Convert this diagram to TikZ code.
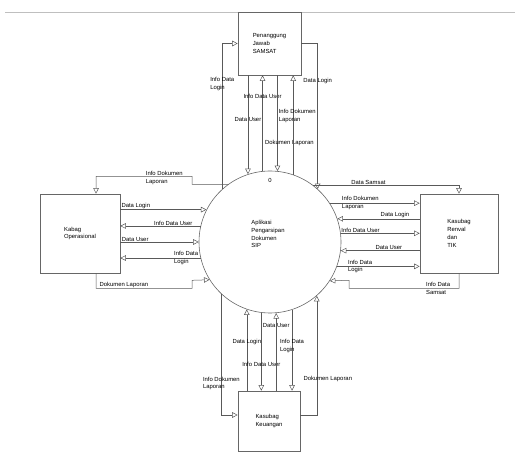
\documentclass[tikz,border=0pt]{standalone}
\usepackage{fontspec}
\setmainfont{Liberation Sans}
\usetikzlibrary{arrows.meta,positioning}

\begin{document}
\begin{tikzpicture}[
  x=1pt, y=1pt,
  font=\fontsize{5.9}{7.8}\selectfont,
  entity/.style={draw=black!60, line width=0.6pt, inner sep=0pt, align=left},
  process/.style={draw=black!60, line width=0.6pt, circle, minimum size=142pt, inner sep=0pt},
  flow/.style={-{Triangle[open, length=5.5pt, width=5.5pt]}, line width=0.5pt, draw=black!65},
  lbl/.style={inner sep=0.6pt, align=left},
  above lbl/.style={lbl, anchor=south}
]
\useasboundingbox (0,0) rectangle (520,452);
\draw[black!25, line width=0.8pt] (5,440) -- (515,440);

\node[entity, minimum width=63pt, minimum height=63pt] (tp) at (269.5,408.5) {Penanggung\\Jawab\\SAMSAT};
\node[entity, minimum width=80pt, minimum height=79pt] (lb) at (80,218.5) {Kabag\\Operasional};
\node[entity, minimum width=78pt, minimum height=79pt] (rb) at (459,218.5) {Kasubag\\Renval\\dan\\TIK};
\node[entity, minimum width=62pt, minimum height=60pt] (bt) at (269,31) {Kasubag\\Keuangan};
\node[process] (app) at (270,210) {};
\node[below=4pt of app.north] (num) {0};
\node[align=left] (appname) at (268,218) {Aplikasi\\Pengarsipan\\Dokumen\\SIP};

% atas
\draw[flow] (app.132.5) |- node[lbl, pos=0.36] (l1) {Info Data\\Login} (tp.west);
\draw[flow] (tp.south -| app.108.9) -- node[lbl, pos=0.45] (l2) {Data User} (app.108.9);
\draw[flow] (app.96.5) -- node[lbl, pos=0.78] (l3) {Info Data User} (app.96.5 |- tp.south);
\draw[flow] (tp.south -| app.84.3) -- node[lbl, pos=0.71, xshift=12pt] (l4) {Dokumen Laporan} (app.84.3);
\draw[flow] (app.71.1) -- node[lbl, pos=0.59, xshift=4pt] (l5) {Info Dokumen\\Laporan} (app.71.1 |- tp.south);
\draw[flow] (tp.east) -| node[lbl, pos=0.63] (l6) {Data Login} (app.48.6);

% bawah
\draw[flow] (app.227.5) |- node[lbl, pos=0.37] (l7) {Info Dokumen\\Laporan} ([yshift=6pt]bt.west);
\draw[flow] (bt.north -| app.251.1) -- node[lbl, pos=0.6] (l8) {Data Login} (app.251.1);
\draw[flow] (app.263.5) -- node[lbl, pos=0.66] (l9) {Info Data User} (app.263.5 |- bt.north);
\draw[flow] (bt.north -| app.275.7) -- node[lbl, pos=0.84] (l10) {Data User} (app.275.7);
\draw[flow] (app.288.9) -- node[lbl, pos=0.45] (l11) {Info Data\\Login} (app.288.9 |- bt.north);
\draw[flow] ([yshift=6pt]bt.east) -| node[lbl, pos=0.65, xshift=11pt] (l12) {Dokumen Laporan} (app.311.4);

% kiri
\draw[flow] (lb.east |- app.153.2) -- node[above lbl, pos=0.18] (l13) {Data Login} (app.153.2);
\draw[flow] (app.167.8) -- node[above lbl, pos=0.34] (l14) {Info Data User} (app.167.8 -| lb.east);
\draw[flow] (lb.east |- app.180) -- node[above lbl, pos=0.19] (l15) {Data User} (app.180);
\draw[flow] (app.193) -- node[lbl, pos=0.18] (l16) {Info Data\\Login} (app.193 -| lb.east);
\draw[flow] (app.126.6) -- ++(-36,0) -- ++(0,8) -- node[lbl, pos=0.29, yshift=-2pt] (l22) {Info Dokumen\\Laporan} ++(-96,0) -- ([xshift=16pt]lb.north);
\draw[flow] ([xshift=16pt]lb.south) -- ++(0,-15) -- node[above lbl, pos=0.29] (l23) {Dokumen Laporan} ++(96,0) -- ++(0,8) -- (app.212.4);

% kanan
\draw[flow] (app.33.3) -- node[lbl, pos=0.34] (l17) {Info Dokumen\\Laporan} (app.33.3 -| rb.west);
\draw[flow] (rb.west |- app.19.8) -- node[above lbl, pos=0.3] (l18) {Data Login} (app.19.8);
\draw[flow] (app.7.3) -- node[above lbl, pos=0.25] (l19) {Info Data User} (app.7.3 -| rb.west);
\draw[flow] (rb.west |- app.353.5) -- node[above lbl, pos=0.39] (l20) {Data User} (app.353.5);
\draw[flow] (app.340.2) -- node[lbl, pos=0.28] (l21) {Info Data\\Login} (app.340.2 -| rb.west);
\draw[flow] (app.53.4) -| node[above lbl, pos=0.19] (l24) {Data Samsat} (rb.north);
\draw[flow] (rb.south) -- ++(0,-15) -- node[lbl, pos=0.19] (l25) {Info Data\\Samsat} ++(-110,0) -- ++(0,8) -- (app.327.6);
\end{tikzpicture}
\end{document}
